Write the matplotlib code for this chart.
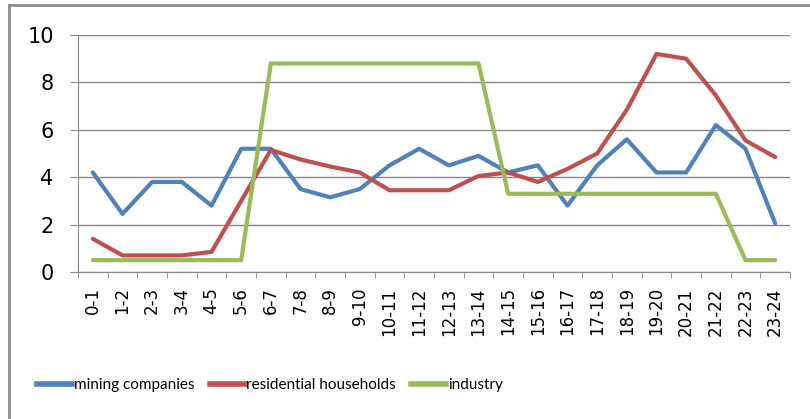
import numpy as np
import matplotlib.pyplot as plt
from matplotlib.lines import Line2D

# data
hours = ["0-1", "1-2", "2-3", "3-4", "4-5", "5-6", "6-7", "7-8", "8-9", "9-10",
         "10-11", "11-12", "12-13", "13-14", "14-15", "15-16", "16-17", "17-18",
         "18-19", "19-20", "20-21", "21-22", "22-23", "23-24"]
mining = [4.2, 2.45, 3.8, 3.8, 2.8, 5.2, 5.2, 3.5, 3.15, 3.5, 4.5, 5.2,
          4.5, 4.9, 4.2, 4.5, 2.8, 4.5, 5.6, 4.2, 4.2, 6.2, 5.2, 2.05]
households = [1.4, 0.7, 0.7, 0.7, 0.85, 3.0, 5.15, 4.75, 4.45, 4.2, 3.45, 3.45,
              3.45, 4.05, 4.2, 3.8, 4.35, 5.0, 6.85, 9.2, 9.0, 7.45, 5.55, 4.85]
industry = [0.5, 0.5, 0.5, 0.5, 0.5, 0.5, 8.8, 8.8, 8.8, 8.8, 8.8, 8.8,
            8.8, 8.8, 3.3, 3.3, 3.3, 3.3, 3.3, 3.3, 3.3, 3.3, 0.5, 0.5]
names = ["mining companies", "residential households", "industry"]
colors = ["#4F81BD", "#C0504D", "#9BBB59"]

fig = plt.figure(figsize=(8.1, 4.19), dpi=100)
ax = fig.add_axes([78/810, 1-272/419, (790-78)/810, (272-35)/419])

x = np.arange(len(hours))
for vals, c in zip([mining, households, industry], colors):
    ax.plot(x, vals, color=c, lw=3, solid_capstyle="round", solid_joinstyle="round")

ax.set_xlim(-0.5, len(hours) - 0.5)
ax.set_ylim(0, 10)
ax.set_yticks(range(0, 11, 2))
ax.yaxis.grid(True, color="#868686", lw=1)
ax.set_axisbelow(True)
ax.tick_params(axis="y", length=5.5, color="#868686", labelsize=15, pad=12)

ax.set_xticks(x)
ax.set_xticklabels(hours, rotation=90, fontsize=12)
ax.tick_params(axis="x", length=0, pad=11)
ax.set_xticks(np.arange(-0.5, len(hours)), minor=True)
ax.tick_params(axis="x", which="minor", length=4, color="#868686")

for s in ["top", "right"]:
    ax.spines[s].set_visible(False)
for s in ["left", "bottom"]:
    ax.spines[s].set_color("#868686")

# outer frame
fig.add_artist(Line2D([9/810, 9/810], [0, 1-5/419], color="#8c8c8c", lw=2,
                      transform=fig.transFigure))
fig.add_artist(Line2D([9/810, 1], [1-5/419, 1-5/419], color="#8c8c8c", lw=2,
                      transform=fig.transFigure))

handles = [Line2D([], [], color=c, lw=4) for c in colors]
fig.legend(handles, names, loc="center", bbox_to_anchor=(270/810, 1-385/419),
           ncol=3, frameon=False, handlelength=2.3, handletextpad=0.1,
           columnspacing=1.0, prop={"family": ["Lato", "DejaVu Sans"], "size": 11})

fig.savefig("out.png", dpi=100)
